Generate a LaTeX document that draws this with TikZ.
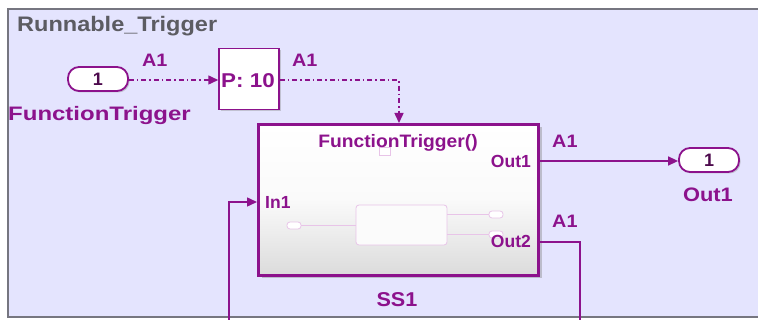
\documentclass[tikz,border=0pt]{standalone}
\usepackage{fontspec}
\setmainfont{Liberation Sans}
\usepackage{graphicx}
\usetikzlibrary{arrows.meta,shadows,calc}
\definecolor{pp}{RGB}{140,18,140}
\definecolor{bg}{RGB}{228,228,254}
\definecolor{fr}{RGB}{118,118,128}
\definecolor{ttl}{RGB}{92,92,98}
\definecolor{faint}{RGB}{232,196,232}
\newcommand\sx[2]{\scalebox{#1}[1]{#2}}
\newcommand\fs[1]{\bfseries\fontsize{#1}{#1}\selectfont}
\tikzset{
  port/.style={draw=pp, line width=1.8pt, fill=white, rounded corners=11pt,
    minimum width=60pt, minimum height=24pt, inner sep=0pt, text=pp!55!black,
    font=\fs{18}, drop shadow={shadow xshift=1.5pt, shadow yshift=-1.5pt, fill=gray, opacity=0.35}},
  wire/.style={draw=pp, line width=1.5pt},
  dd/.style={wire, dash pattern=on 5pt off 3pt on 1.5pt off 3pt},
  arr/.style={-{Triangle[length=10pt,width=9pt]}},
  lbl/.style={text=pp, inner sep=0pt, font=\fs{18}},
  faintline/.style={draw=faint, line width=0.8pt},
}
\begin{document}
\begin{tikzpicture}[x=1pt,y=-1pt]
\useasboundingbox (0,0) rectangle (758,320);
\begin{scope}
\clip (0,0) rectangle (758,320);
\fill[white] (0,0) rectangle (758,320);
\draw[fill=bg, draw=fr, line width=2pt] (8,9) rectangle (775,317);
\end{scope}
\node[anchor=base west, inner sep=0pt, text=ttl, font=\fs{21}] (title) at (17,32) {\sx{1.12}{Runnable\_Trigger}};

% inport
\node[port] (inp) at (98,79) {1};
\node[lbl, anchor=base west, font=\fs{19.5}] (inplbl) at (8,121) {\sx{1.23}{FunctionTrigger}};

% P: 10 block
\node[draw=pp, line width=1.5pt, fill=white, minimum width=60pt, minimum height=61pt,
  inner sep=0pt, drop shadow={shadow xshift=2pt, shadow yshift=-2pt, fill=gray, opacity=0.35}] (pb) at (249,79) {};
\node[lbl, anchor=base west, font=\fs{20}] (pbt) at (221,88) {\sx{1.12}{P: 10}};

% subsystem
\node[draw=pp, line width=3pt, minimum width=280pt, minimum height=151pt, inner sep=0pt,
  top color=white, bottom color=gray!28, middle color=white!96!gray,
  drop shadow={shadow xshift=3pt, shadow yshift=-3pt, fill=gray, opacity=0.4}] (ss) at (398.5,200) {};

% faint inner diagram
\draw[faintline, fill=white!97!gray, rounded corners=3pt] (356,205) rectangle (447,245);
\draw[faintline, fill=white, rounded corners=3pt] (287,222) rectangle (301,229);
\draw[faintline, fill=white, rounded corners=3pt] (489,211) rectangle (503,218);
\draw[faintline, fill=white, rounded corners=3pt] (489,231) rectangle (503,238);
\draw[faintline] (301,225.5) -- (356,225.5);
\draw[faintline] (447,214.5) -- (489,214.5);
\draw[faintline] (447,234.5) -- (489,234.5);
\draw[faintline, fill=white] (379,147) rectangle (390,155);

\node[lbl, anchor=base] (ftr) at (398,148) {\sx{1.07}{FunctionTrigger()}};
\node[lbl, anchor=base east, font=\fs{17.5}] (o1) at (531,168) {Out1};
\node[lbl, anchor=base west, font=\fs{17.5}] (i1) at (265,209) {In1};
\node[lbl, anchor=base east, font=\fs{17.5}] (o2) at (531,248) {Out2};
\node[lbl, anchor=base, font=\fs{20}] (ssl) at (397,307) {\sx{1.08}{SS1}};

% outport
\node[port] (outp) at (709,160) {1};
\node[lbl, anchor=base, font=\fs{19.5}] (outlbl) at (708,202) {\sx{1.12}{Out1}};

% signal labels
\node[lbl, anchor=base west] (a1) at (142,67) {\sx{1.1}{A1}};
\node[lbl, anchor=base west] (a2) at (292,67) {\sx{1.1}{A1}};
\node[lbl, anchor=base west] (a3) at (552,148) {\sx{1.1}{A1}};
\node[lbl, anchor=base west] (a4) at (552,228) {\sx{1.1}{A1}};

% connectors
\coordinate (pbin) at (pb.west |- 0,80);
\coordinate (pbout) at (pb.east |- 0,80);
\coordinate (bend) at (399,80);
\draw[dd, arr] (inp.east |- pbin) -- (pbin);
\draw[dd, arr] (pbout) -- (bend) -- (bend |- ss.north);
\draw[wire, arr] (ss.east |- 0,161) -- (outp.west |- 0,161);
\coordinate (bot2) at (580,330);
\coordinate (bot1) at (229,330);
\draw[wire] (ss.east |- 0,242) -- (bot2 |- 0,242) -- (bot2);
\draw[wire, arr] (bot1) -- (bot1 |- 0,202) -- (ss.west |- 0,202);
\end{tikzpicture}
\end{document}
